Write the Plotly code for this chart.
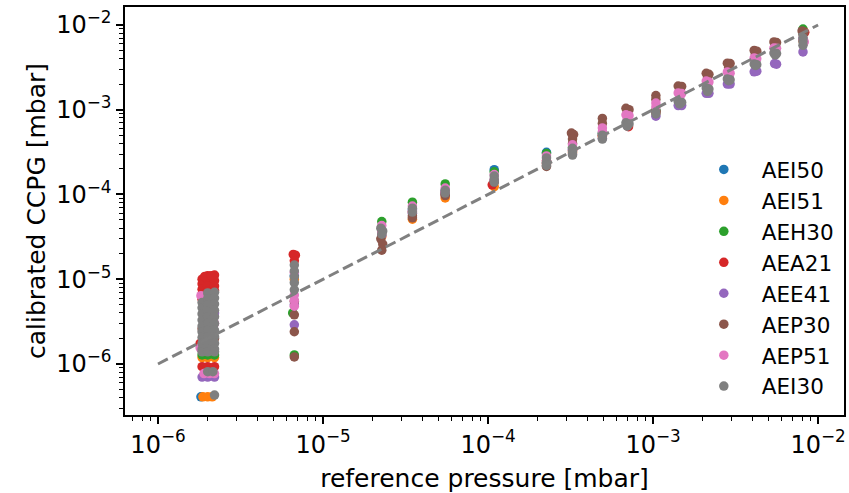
import plotly.graph_objects as go

# Calibrated CCPG readings against reference pressure, one list of (p_ref, p_ccpg) per gauge [mbar]
sensors = ["AEI50", "AEI51", "AEH30", "AEA21", "AEE41", "AEP30", "AEP51", "AEI30"]
colors = ["#1f77b4", "#ff7f0e", "#2ca02c", "#d62728", "#9467bd", "#8c564b", "#e377c2", "#7f7f7f"]

AEI50 = [
    (1.82e-6, 4.1e-7), (2.0e-6, 3.0e-6),
    (6.7e-6, 1.1e-5), (2.27e-5, 3.8e-5), (3.48e-5, 6.6e-5), (5.5e-5, 1.1e-4),
    (1.09e-4, 1.96e-4), (2.26e-4, 3.15e-4), (3.25e-4, 3.4e-4), (4.93e-4, 5.2e-4),
    (6.97e-4, 7.0e-4), (1.04e-3, 9.6e-4), (1.45e-3, 1.25e-3), (2.14e-3, 1.8e-3),
    (2.87e-3, 2.4e-3), (4.17e-3, 3.5e-3), (5.5e-3, 4.7e-3), (8.1e-3, 6.8e-3),
]
AEI51 = [
    (1.85e-6, 1.19e-6), (2.0e-6, 1.19e-6), (2.2e-6, 1.19e-6),
    (1.87e-6, 4.1e-7), (2.0e-6, 4.1e-7), (2.13e-6, 4.1e-7),
    (6.7e-6, 1.0e-5), (2.27e-5, 3.2e-5), (3.48e-5, 5.1e-5), (5.5e-5, 9.1e-5),
    (1.09e-4, 1.24e-4), (2.26e-4, 2.3e-4), (3.25e-4, 3.1e-4), (4.93e-4, 4.8e-4),
    (6.97e-4, 6.6e-4), (1.04e-3, 9.2e-4), (1.45e-3, 1.22e-3), (2.14e-3, 1.75e-3),
    (2.87e-3, 2.3e-3), (4.17e-3, 3.4e-3), (5.5e-3, 4.6e-3), (8.1e-3, 6.5e-3),
]
AEH30 = [
    (1.85e-6, 1.28e-6), (2.0e-6, 1.28e-6), (2.2e-6, 1.28e-6), (2.0e-6, 3.0e-6),
    (6.55e-6, 4.0e-6), (6.7e-6, 1.28e-6),
    (2.27e-5, 4.8e-5), (3.48e-5, 8.1e-5), (5.5e-5, 1.33e-4), (1.09e-4, 1.85e-4),
    (2.26e-4, 3.05e-4), (3.25e-4, 3.6e-4), (4.93e-4, 5.3e-4), (6.97e-4, 7.2e-4),
    (1.04e-3, 9.8e-4), (1.45e-3, 1.3e-3), (2.14e-3, 1.85e-3), (2.87e-3, 2.45e-3),
    (4.17e-3, 3.6e-3), (5.5e-3, 4.9e-3), (8.1e-3, 8.95e-3),
]
AEA21 = [
    (1.85e-6, 1.0e-5), (1.85e-6, 8.8e-6), (1.85e-6, 7.6e-6), (1.85e-6, 6.6e-6), (1.85e-6, 5.8e-6),
    (2.0e-6, 1.1e-5), (2.0e-6, 9.5e-6), (2.0e-6, 8.2e-6), (2.0e-6, 7.2e-6),
    (2.2e-6, 1.12e-5), (2.2e-6, 9.6e-6), (2.2e-6, 8.3e-6), (2.2e-6, 7.3e-6),
    (1.92e-6, 1.08e-5), (2.1e-6, 1.1e-5),
    (1.85e-6, 9.3e-7), (2.0e-6, 9.3e-7), (2.2e-6, 9.3e-7), (1.8e-6, 1.75e-6),
    (6.6e-6, 1.96e-5), (6.8e-6, 1.92e-5), (6.7e-6, 1.65e-5),
    (2.27e-5, 3.6e-5), (3.48e-5, 6.2e-5), (5.5e-5, 1.05e-4), (1.06e-4, 1.3e-4),
    (2.26e-4, 2.5e-4), (3.25e-4, 3.3e-4), (4.93e-4, 5.0e-4), (7.1e-4, 6.3e-4),
    (1.04e-3, 9.5e-4), (1.45e-3, 1.27e-3), (2.14e-3, 1.78e-3), (2.87e-3, 2.35e-3),
    (4.17e-3, 3.45e-3), (5.5e-3, 4.6e-3), (8.3e-3, 8.2e-3),
]
AEE41 = [
    (1.85e-6, 7.0e-7), (2.0e-6, 7.0e-7), (2.2e-6, 7.0e-7), (2.0e-6, 2.5e-6), (2.2e-6, 4.0e-6),
    (6.7e-6, 2.9e-6), (6.7e-6, 5.0e-6),
    (2.27e-5, 3.3e-5), (3.48e-5, 6.0e-5), (5.5e-5, 1.03e-4), (1.09e-4, 1.45e-4),
    (2.26e-4, 2.3e-4), (3.25e-4, 3.0e-4), (4.93e-4, 4.6e-4), (6.97e-4, 6.5e-4),
    (1.04e-3, 8.4e-4), (1.42e-3, 1.12e-3), (1.49e-3, 1.12e-3),
    (2.1e-3, 1.56e-3), (2.18e-3, 1.56e-3), (2.82e-3, 2.01e-3), (2.93e-3, 2.01e-3),
    (4.1e-3, 2.8e-3), (4.25e-3, 2.85e-3), (5.45e-3, 3.5e-3), (5.6e-3, 3.45e-3),
    (8.1e-3, 4.8e-3),
]
AEP30 = [
    (2.0e-6, 3.2e-6), (2.2e-6, 2.0e-6), (1.85e-6, 2.6e-6),
    (6.7e-6, 5.5e-6), (6.7e-6, 3.8e-6), (6.7e-6, 2.4e-6), (6.7e-6, 1.21e-6),
    (2.24e-5, 3.0e-5), (2.3e-5, 2.6e-5), (2.27e-5, 2.2e-5),
    (3.48e-5, 5.6e-5), (3.48e-5, 5.3e-5), (5.5e-5, 1.0e-4), (5.5e-5, 9.7e-5),
    (1.09e-4, 1.4e-4), (2.26e-4, 2.35e-4), (2.26e-4, 2.14e-4),
    (3.2e-4, 5.3e-4), (3.3e-4, 5.1e-4), (3.25e-4, 4.5e-4), (3.25e-4, 4.0e-4),
    (4.93e-4, 7.9e-4), (4.93e-4, 6.9e-4),
    (6.85e-4, 1.04e-3), (7.15e-4, 1.0e-3), (6.97e-4, 9.0e-4),
    (1.04e-3, 1.47e-3), (1.04e-3, 1.33e-3),
    (1.42e-3, 1.9e-3), (1.49e-3, 1.88e-3), (1.45e-3, 1.7e-3),
    (2.1e-3, 2.69e-3), (2.18e-3, 2.62e-3), (2.14e-3, 2.4e-3),
    (2.82e-3, 3.54e-3), (2.93e-3, 3.5e-3), (2.87e-3, 3.15e-3),
    (4.1e-3, 5.0e-3), (4.25e-3, 4.9e-3), (4.17e-3, 4.5e-3),
    (5.4e-3, 6.3e-3), (5.6e-3, 6.2e-3), (5.5e-3, 5.7e-3),
    (8.0e-3, 8.5e-3), (8.2e-3, 8.2e-3), (8.1e-3, 7.7e-3),
]
AEP51 = [
    (1.82e-6, 6.4e-6), (1.8e-6, 1.55e-6),
    (1.9e-6, 7.7e-7), (2.05e-6, 7.7e-7), (2.2e-6, 7.7e-7),
    (2.0e-6, 4.0e-6), (2.2e-6, 3.0e-6), (2.0e-6, 2.2e-6),
    (6.7e-6, 1.2e-5), (6.7e-6, 6.5e-6), (6.7e-6, 5.6e-6), (6.7e-6, 4.8e-6),
    (2.27e-5, 4.3e-5), (2.27e-5, 3.6e-5), (3.48e-5, 7.3e-5), (3.48e-5, 6.4e-5),
    (5.5e-5, 1.19e-4), (5.5e-5, 1.08e-4), (1.09e-4, 1.72e-4), (1.09e-4, 1.5e-4),
    (2.26e-4, 2.85e-4), (2.26e-4, 2.5e-4), (3.25e-4, 3.85e-4), (3.25e-4, 3.4e-4),
    (4.93e-4, 6.1e-4), (4.93e-4, 5.5e-4),
    (6.85e-4, 8.7e-4), (7.15e-4, 8.5e-4), (6.97e-4, 7.6e-4),
    (1.04e-3, 1.2e-3), (1.04e-3, 1.08e-3),
    (1.42e-3, 1.58e-3), (1.49e-3, 1.55e-3), (1.45e-3, 1.4e-3),
    (2.1e-3, 2.18e-3), (2.18e-3, 2.12e-3), (2.14e-3, 2.0e-3),
    (2.82e-3, 2.79e-3), (2.93e-3, 2.7e-3), (2.87e-3, 2.5e-3),
    (4.1e-3, 4.08e-3), (4.25e-3, 4.0e-3), (4.17e-3, 3.7e-3),
    (5.4e-3, 5.35e-3), (5.6e-3, 5.3e-3),
    (8.25e-3, 6.3e-3), (8.1e-3, 6.8e-3),
]
AEI30 = [
    (1.85e-6, 5.3e-6), (1.85e-6, 4.6e-6), (1.85e-6, 3.9e-6), (1.85e-6, 3.3e-6), (1.85e-6, 2.8e-6),
    (1.85e-6, 2.4e-6), (1.85e-6, 2.05e-6), (1.85e-6, 1.75e-6), (1.85e-6, 1.5e-6), (1.85e-6, 1.39e-6),
    (2.0e-6, 6.9e-6), (2.0e-6, 5.9e-6), (2.0e-6, 5.0e-6), (2.0e-6, 4.2e-6), (2.0e-6, 3.6e-6),
    (2.0e-6, 3.0e-6), (2.0e-6, 2.5e-6), (2.0e-6, 2.1e-6), (2.0e-6, 1.75e-6), (2.0e-6, 1.5e-6),
    (2.0e-6, 1.39e-6), (2.0e-6, 8.1e-7),
    (2.2e-6, 7.0e-6), (2.2e-6, 6.0e-6), (2.2e-6, 5.1e-6), (2.2e-6, 4.3e-6), (2.2e-6, 3.6e-6),
    (2.2e-6, 3.0e-6), (2.2e-6, 2.5e-6), (2.2e-6, 2.1e-6), (2.2e-6, 1.75e-6), (2.2e-6, 1.5e-6),
    (2.2e-6, 1.39e-6), (2.15e-6, 8.1e-7), (2.2e-6, 4.3e-7),
    (6.7e-6, 1.47e-5), (6.7e-6, 1.25e-5), (6.7e-6, 1.07e-5), (6.7e-6, 9.1e-6), (6.7e-6, 7.5e-6),
    (2.24e-5, 4.0e-5), (2.3e-5, 3.7e-5), (2.27e-5, 3.4e-5),
    (3.48e-5, 6.9e-5), (3.48e-5, 6.2e-5), (5.5e-5, 1.12e-4), (5.5e-5, 1.04e-4),
    (1.09e-4, 1.65e-4), (1.09e-4, 1.5e-4), (1.09e-4, 1.4e-4),
    (2.26e-4, 2.7e-4), (2.26e-4, 2.4e-4), (2.26e-4, 2.2e-4),
    (3.25e-4, 3.5e-4), (3.25e-4, 3.2e-4), (3.25e-4, 2.92e-4),
    (4.93e-4, 5.0e-4), (4.93e-4, 4.5e-4),
    (6.85e-4, 7.0e-4), (7.15e-4, 6.8e-4), (6.97e-4, 6.4e-4),
    (1.04e-3, 9.4e-4), (1.04e-3, 8.9e-4),
    (1.42e-3, 1.25e-3), (1.49e-3, 1.22e-3), (1.45e-3, 1.17e-3),
    (2.1e-3, 1.81e-3), (2.18e-3, 1.75e-3), (2.14e-3, 1.64e-3),
    (2.82e-3, 2.31e-3), (2.93e-3, 2.25e-3), (2.87e-3, 2.2e-3),
    (4.1e-3, 3.47e-3), (4.25e-3, 3.4e-3), (4.17e-3, 3.33e-3),
    (5.4e-3, 4.67e-3), (5.6e-3, 4.6e-3), (5.5e-3, 4.43e-3),
    (8.1e-3, 7.0e-3), (8.1e-3, 6.4e-3), (8.1e-3, 5.75e-3),
]
readings = [AEI50, AEI51, AEH30, AEA21, AEE41, AEP30, AEP51, AEI30]

# 1:1 reference line
ideal = [1e-6, 1e-2]

# log-axis ticks: decades labelled as powers of ten, minor ticks at 2..9 x decade
major_exponents = [-6, -5, -4, -3, -2]
major_vals = [10.0 ** e for e in major_exponents]
major_text = ["10<sup>\u2212%d</sup>" % (-e) for e in major_exponents]
minor_steps = [2, 3, 4, 5, 6, 7, 8, 9]
minor_vals = [m * 10.0 ** e for e in [-7, -6, -5, -4, -3, -2] for m in minor_steps]

FONT = "DejaVu Sans"
TICK_SIZE = 24
TITLE_SIZE = 25
LEGEND_SIZE = 21.5

fig = go.Figure()
for name, color, pts in zip(sensors, colors, readings):
    fig.add_trace(go.Scatter(
        x=[p[0] for p in pts], y=[p[1] for p in pts],
        mode="markers", name=name, legendgroup=name,
        marker=dict(color=color, size=9.5, line=dict(width=0)),
    ))

fig.add_trace(go.Scatter(
    x=ideal, y=ideal, mode="lines", showlegend=False,
    line=dict(color="gray", width=3, dash="11px,5px"),
))

axis_common = dict(
    type="log",
    showgrid=False, zeroline=False,
    showline=True, linecolor="black", linewidth=1.5, mirror=True,
    ticks="outside", ticklen=7, tickwidth=1.5, tickcolor="black",
    tickmode="array", tickvals=major_vals, ticktext=major_text,
    tickfont=dict(family=FONT, size=TICK_SIZE, color="black"),
    minor=dict(tickmode="array", tickvals=minor_vals, ticks="outside",
               ticklen=4, tickwidth=1, tickcolor="black", showgrid=False),
)

fig.update_layout(
    width=849, height=493,
    margin=dict(l=125, r=3, t=7, b=78),
    paper_bgcolor="white", plot_bgcolor="white",
    font=dict(family=FONT, size=TICK_SIZE, color="black"),
    xaxis=dict(axis_common, range=[-6.2, -1.843],
               title=dict(text="reference pressure [mbar]", standoff=13,
                          font=dict(family=FONT, size=TITLE_SIZE, color="black"))),
    yaxis=dict(axis_common, range=[-6.602, -1.788],
               title=dict(text="calibrated CCPG [mbar]", standoff=3,
                          font=dict(family=FONT, size=TITLE_SIZE, color="black"))),
    legend=dict(x=0.78, y=0.652, xanchor="left", yanchor="top",
                bgcolor="rgba(0,0,0,0)", borderwidth=0, itemwidth=66,
                tracegroupgap=0,
                font=dict(family=FONT, size=LEGEND_SIZE, color="black")),
    showlegend=True,
)

fig.write_html("out.html")
